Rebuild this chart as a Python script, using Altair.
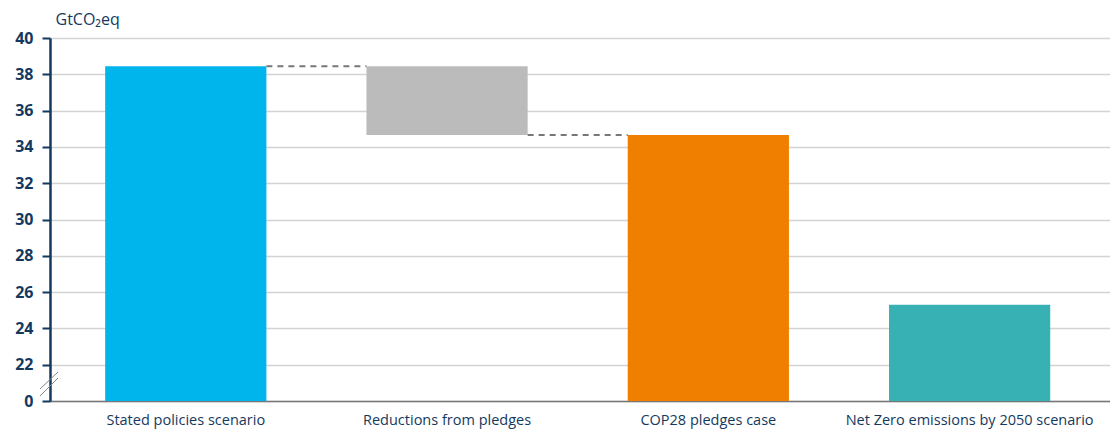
import altair as alt
import pandas as pd

categories = ["Stated policies scenario", "Reductions from pledges", "COP28 pledges case", "Net Zero emissions by 2050 scenario"]
bar_start = [20, 34.65, 20, 20]   # 20 on the broken axis is drawn as 0
bar_end = [38.45, 38.45, 34.65, 25.3]
colors = ["#00b4ec", "#bbbbbb", "#f07f00", "#38b1b5"]

conn_from = ["Stated policies scenario", "Reductions from pledges"]
conn_to = ["Reductions from pledges", "COP28 pledges case"]
conn_y = [38.45, 34.65]

tick_values = [20, 22, 24, 26, 28, 30, 32, 34, 36, 38, 40]

bars_df = pd.DataFrame({"cat": categories, "start": bar_start, "end": bar_end})
conn_df = pd.DataFrame({"from": conn_from, "to": conn_to, "y": conn_y})

navy = "#15395e"
FONT = "Open Sans"

xscale = alt.Scale(domain=categories, paddingInner=0.383, paddingOuter=0.22, align=0.48)
yscale = alt.Scale(domain=[20, 40], nice=False, zero=False)

x_axis = alt.Axis(title=None, labelAngle=0, ticks=False, labelColor=navy,
                  labelFontSize=14.5, labelFont=FONT, labelPadding=12,
                  labelLimit=0, labelOverlap=False,
                  domainColor="#777777", domainWidth=1.5, grid=False)
y_axis = alt.Axis(values=tick_values, labelExpr="datum.value == 20 ? '0' : datum.label",
                  labelOverlap=False, tickCount=11,
                  title="GtCO\u2082eq", titleAngle=0, titleAlign="left", titleX=5, titleY=-11,
                  titleFontWeight="normal", titleFontSize=16, titleColor=navy, titleFont=FONT,
                  labelFontSize=16, labelFontWeight="bold", labelColor=navy, labelFont=FONT,
                  labelPadding=9, tickColor=navy, tickSize=8, tickWidth=2,
                  domainColor=navy, domainWidth=2.5, grid=True, gridColor="#d3d3d3",
                  gridWidth=1.5)

bars = alt.Chart(bars_df).mark_bar().encode(
    x=alt.X("cat:N", scale=xscale, sort=categories, axis=x_axis),
    y=alt.Y("start:Q", scale=yscale, axis=y_axis),
    y2="end:Q",
    color=alt.Color("cat:N", scale=alt.Scale(domain=categories, range=colors), legend=None),
)

connectors = alt.Chart(conn_df).mark_rule(color="#777777", strokeDash=[6, 5], strokeWidth=2).encode(
    x=alt.X("from:N", scale=xscale, bandPosition=1, axis=x_axis),
    x2=alt.X2("to:N", bandPosition=0),
    y=alt.Y("y:Q", scale=yscale, axis=y_axis),
)

break1 = alt.Chart(pd.DataFrame({"k": [0]})).mark_rule(color="#888888", strokeWidth=1).encode(
    x=alt.value(-10), x2=alt.value(8), y=alt.value(351), y2=alt.value(334))
break2 = alt.Chart(pd.DataFrame({"k": [0]})).mark_rule(color="#888888", strokeWidth=1).encode(
    x=alt.value(-10), x2=alt.value(8), y=alt.value(358), y2=alt.value(340))

chart = alt.layer(bars, connectors, break1, break2).properties(
    width=1060, height=363,
    autosize=alt.AutoSizeParams(type="none"),
    padding={"left": 50, "top": 38, "right": 0, "bottom": 31},
).configure_view(stroke=None)

chart.save("out.html", embed_options={"renderer": "svg", "actions": False})
